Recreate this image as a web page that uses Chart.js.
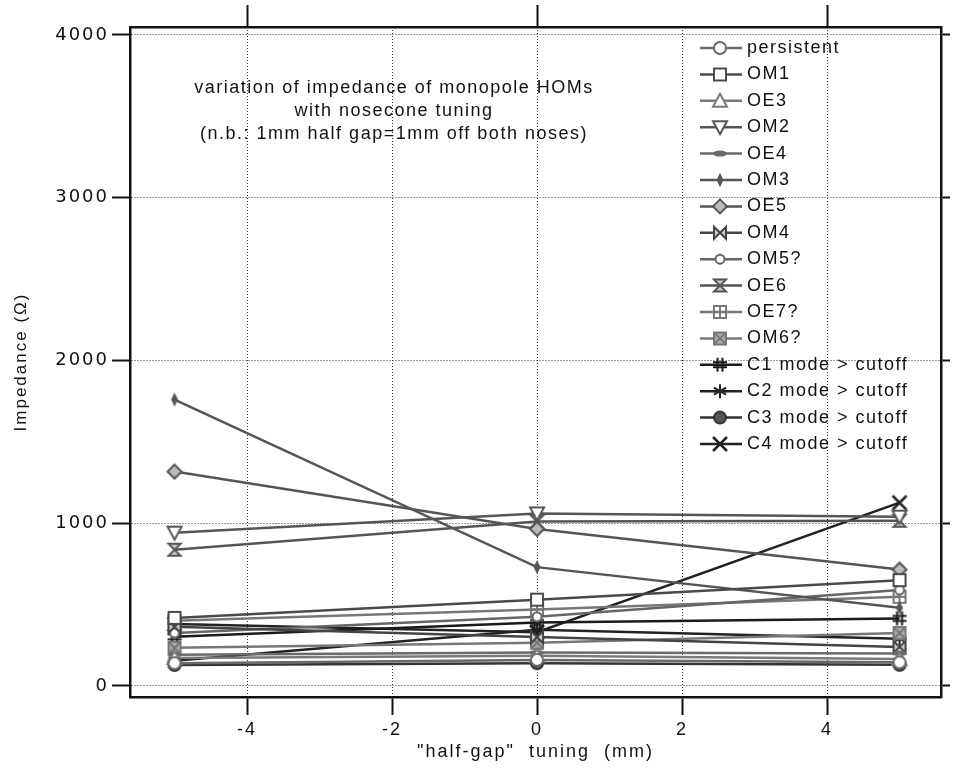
<!DOCTYPE html>
<html lang="en">
<head>
<meta charset="UTF-8">
<title>Impedance of monopole HOMs vs nosecone tuning</title>
<script src="https://cdn.jsdelivr.net/npm/chart.js"></script>
<style>
  html, body { margin: 0; padding: 0; background: #fff; }
  #wrap { width: 953px; height: 771px; }
</style>
</head>
<body>
<div id="wrap"><canvas id="homChart" width="953" height="771"></canvas></div>
<script>
// half-gap tuning settings (mm)
const tuning = [-5, 0, 5];

const seriesNames = ['persistent', 'OM1', 'OE3', 'OM2', 'OE4', 'OM3', 'OE5', 'OM4', 'OM5?', 'OE6', 'OE7?', 'OM6?',
  'C1 mode > cutoff', 'C2 mode > cutoff', 'C3 mode > cutoff', 'C4 mode > cutoff'];

// impedance (ohm) at -5, 0, +5 mm
const persistent = [140, 160, 145];
const om1 = [418, 530, 650];
const oe3 = [172, 185, 165];
const om2 = [942, 1060, 1040];
const oe4 = [191, 205, 200];
const om3 = [1760, 730, 480];
const oe5 = [1317, 965, 715];
const om4 = [363, 300, 240];
const om5 = [326, 425, 590];
const oe6 = [837, 1010, 1015];
const oe7 = [400, 470, 548];
const om6 = [234, 265, 325];
const c1 = [302, 390, 415];
const c2 = [155, 345, 290];
const c3 = [129, 140, 130];
const c4 = [380, 330, 1126];

const allSeries = [persistent, om1, oe3, om2, oe4, om3, oe5, om4, om5, oe6, oe7, om6, c1, c2, c3, c4];

const xTicks = [-4, -2, 0, 2, 4];
const xTopTicks = [-4, 0, 4];
const yTicks = [0, 1000, 2000, 3000, 4000];

const noteLines = ['variation of impedance of monopole HOMs', 'with nosecone tuning', '(n.b.: 1mm half gap=1mm off both noses)'];

// marker shape and colour per series
const markers = ['circle', 'square', 'triUp', 'triDown', 'ellipse', 'thinDiamond', 'diamond', 'bowtie',
  'smallCircle', 'hourglass', 'squarePlus', 'squareX', 'hash', 'asterisk', 'filledCircle', 'xcross'];
const colours = ['#6a6a6a', '#4a4a4a', '#7a7a7a', '#555', '#6a6a6a', '#555', '#555', '#444',
  '#666', '#555', '#777', '#777', '#1a1a1a', '#222', '#333', '#222'];

function drawMarker(g, kind, cx, cy, color) {
  const r = 6;
  g.save();
  g.strokeStyle = color;
  g.fillStyle = color;
  g.lineWidth = 2;
  g.beginPath();
  switch (kind) {
    case 'circle':
      g.arc(cx, cy, r, 0, Math.PI * 2);
      g.fillStyle = '#fff'; g.fill(); g.stroke();
      break;
    case 'square':
      g.rect(cx - r, cy - r, 2 * r, 2 * r);
      g.fillStyle = '#fff'; g.fill(); g.stroke();
      break;
    case 'triUp':
      g.moveTo(cx, cy - r - 1); g.lineTo(cx + r + 1, cy + r); g.lineTo(cx - r - 1, cy + r); g.closePath();
      g.fillStyle = '#fff'; g.fill(); g.stroke();
      break;
    case 'triDown':
      g.moveTo(cx, cy + r + 1); g.lineTo(cx + r + 1, cy - r); g.lineTo(cx - r - 1, cy - r); g.closePath();
      g.fillStyle = '#fff'; g.fill(); g.stroke();
      break;
    case 'ellipse':
      g.ellipse(cx, cy, r + 1, 3, 0, 0, Math.PI * 2);
      g.fill();
      break;
    case 'thinDiamond':
      g.moveTo(cx, cy - r - 1); g.lineTo(cx + 3.5, cy); g.lineTo(cx, cy + r + 1); g.lineTo(cx - 3.5, cy); g.closePath();
      g.fill();
      break;
    case 'diamond':
      g.moveTo(cx, cy - r - 1); g.lineTo(cx + r + 1, cy); g.lineTo(cx, cy + r + 1); g.lineTo(cx - r - 1, cy); g.closePath();
      g.fillStyle = '#bbb'; g.fill(); g.stroke();
      break;
    case 'bowtie':
      g.moveTo(cx - r, cy - r); g.lineTo(cx + r, cy + r); g.lineTo(cx + r, cy - r); g.lineTo(cx - r, cy + r); g.closePath();
      g.fillStyle = '#ccc'; g.fill(); g.stroke();
      break;
    case 'smallCircle':
      g.arc(cx, cy, r - 1.5, 0, Math.PI * 2);
      g.fillStyle = '#fff'; g.fill(); g.stroke();
      break;
    case 'hourglass':
      g.moveTo(cx - r, cy - r); g.lineTo(cx + r, cy - r); g.lineTo(cx - r, cy + r); g.lineTo(cx + r, cy + r); g.closePath();
      g.fillStyle = '#ccc'; g.fill(); g.stroke();
      break;
    case 'squarePlus':
      g.rect(cx - r, cy - r, 2 * r, 2 * r);
      g.moveTo(cx, cy - r); g.lineTo(cx, cy + r); g.moveTo(cx - r, cy); g.lineTo(cx + r, cy);
      g.stroke();
      break;
    case 'squareX':
      g.rect(cx - r, cy - r, 2 * r, 2 * r);
      g.fillStyle = '#aaa'; g.fill();
      g.moveTo(cx - r, cy - r); g.lineTo(cx + r, cy + r); g.moveTo(cx + r, cy - r); g.lineTo(cx - r, cy + r);
      g.stroke();
      break;
    case 'hash':
      g.moveTo(cx - 2.5, cy - r - 1); g.lineTo(cx - 2.5, cy + r + 1);
      g.moveTo(cx + 2.5, cy - r - 1); g.lineTo(cx + 2.5, cy + r + 1);
      g.moveTo(cx - r - 1, cy - 2.5); g.lineTo(cx + r + 1, cy - 2.5);
      g.moveTo(cx - r - 1, cy + 2.5); g.lineTo(cx + r + 1, cy + 2.5);
      g.stroke();
      break;
    case 'asterisk':
      for (let k = 0; k < 3; k++) {
        const a = Math.PI / 2 + k * Math.PI / 3;
        g.moveTo(cx - Math.cos(a) * (r + 1), cy - Math.sin(a) * (r + 1));
        g.lineTo(cx + Math.cos(a) * (r + 1), cy + Math.sin(a) * (r + 1));
      }
      g.moveTo(cx - r - 1, cy); g.lineTo(cx + r + 1, cy);
      g.stroke();
      break;
    case 'filledCircle':
      g.arc(cx, cy, r, 0, Math.PI * 2);
      g.fillStyle = '#555'; g.fill(); g.stroke();
      break;
    case 'xcross':
      g.lineWidth = 2.5;
      g.moveTo(cx - r - 1, cy - r - 1); g.lineTo(cx + r + 1, cy + r + 1);
      g.moveTo(cx + r + 1, cy - r - 1); g.lineTo(cx - r - 1, cy + r + 1);
      g.stroke();
      break;
  }
  g.restore();
}

function markerCanvas(kind, color) {
  const c = document.createElement('canvas');
  c.width = 20; c.height = 20;
  drawMarker(c.getContext('2d'), kind, 10, 10, color);
  return c;
}

const datasets = allSeries.map((vals, i) => ({
  label: seriesNames[i],
  data: vals.map((v, j) => ({ x: tuning[j], y: v })),
  borderColor: colours[i],
  borderWidth: 2.5,
  pointStyle: markerCanvas(markers[i], colours[i]),
  pointRadius: 7,
  pointHoverRadius: 7,
  fill: false,
  tension: 0,
  clip: false
}));

// note text and legend inside the plot frame
const annotations = {
  id: 'annotations',
  beforeDraw(chart) { chart.ctx.letterSpacing = '2px'; },
  afterDraw(chart) {
    const { ctx, chartArea } = chart;
    ctx.save();
    ctx.letterSpacing = '1.5px';
    ctx.fillStyle = '#111';
    ctx.font = '18px "Liberation Sans", Arial, sans-serif';
    ctx.textAlign = 'center';
    ctx.textBaseline = 'middle';
    noteLines.forEach((t, i) => ctx.fillText(t, chartArea.left + 264, chartArea.top + 61 + i * 23));

    ctx.textAlign = 'left';
    const lx = chartArea.right - 241;
    seriesNames.forEach((name, i) => {
      const y = chartArea.top + 21 + i * 26.4;
      ctx.strokeStyle = colours[i];
      ctx.lineWidth = 2.5;
      ctx.beginPath();
      ctx.moveTo(lx, y); ctx.lineTo(lx + 42, y);
      ctx.stroke();
      drawMarker(ctx, markers[i], lx + 20, y, colours[i]);
      ctx.fillStyle = '#111';
      ctx.fillText(name, lx + 47, y);
    });
    ctx.restore();
    ctx.letterSpacing = '0px';
  }
};

const frame = { display: true, color: '#111', width: 2.5 };
const dotted = [1, 2];

new Chart(document.getElementById('homChart'), {
  type: 'line',
  data: { datasets },
  options: {
    responsive: false,
    animation: false,
    layout: { padding: 0 },
    plugins: { legend: { display: false }, tooltip: { enabled: false } },
    scales: {
      x: {
        type: 'linear', position: 'bottom', min: -5.614, max: 5.572,
        afterBuildTicks: s => { s.ticks = xTicks.map(v => ({ value: v })); },
        afterFit: s => { s.height = 74; },
        grid: { color: '#333', lineWidth: 1, tickLength: 18, tickColor: '#111', tickWidth: 2 },
        border: { ...frame, dash: dotted },
        ticks: { color: '#111', padding: 4, callback: v => String(v),
          font: { family: '"Liberation Sans", Arial, sans-serif', size: 18 } },
        title: { display: true, text: '"half-gap"  tuning  (mm)', color: '#111', padding: { top: 0, bottom: 8 },
          font: { family: '"Liberation Sans", Arial, sans-serif', size: 18 } }
      },
      x2: {
        type: 'linear', position: 'top', min: -5.614, max: 5.572,
        afterBuildTicks: s => { s.ticks = xTopTicks.map(v => ({ value: v })); },
        afterFit: s => { s.height = 27; },
        grid: { drawOnChartArea: false, tickLength: 22, tickColor: '#111', tickWidth: 2 },
        border: frame,
        ticks: { display: false }
      },
      y: {
        type: 'linear', position: 'left', min: -68, max: 4049,
        afterBuildTicks: s => { s.ticks = yTicks.map(v => ({ value: v })); },
        afterFit: s => { s.width = 130; },
        grid: { color: '#333', lineWidth: 1, tickLength: 18, tickColor: '#111', tickWidth: 2 },
        border: { ...frame, dash: dotted },
        ticks: { color: '#111', padding: 3, callback: v => String(v),
          font: { family: '"DejaVu Sans", sans-serif', size: 18 } },
        title: { display: true, text: 'Impedance (Ω)', color: '#111', padding: { top: 11, bottom: 0 },
          font: { family: '"Liberation Sans", Arial, sans-serif', size: 17 } }
      },
      y2: {
        type: 'linear', position: 'right', min: -68, max: 4049,
        afterBuildTicks: s => { s.ticks = yTicks.map(v => ({ value: v })); },
        afterFit: s => { s.width = 12; },
        grid: { drawOnChartArea: false, tickLength: 9, tickColor: '#111', tickWidth: 2 },
        border: frame,
        ticks: { display: false }
      }
    }
  },
  plugins: [annotations]
});
</script>
</body>
</html>
